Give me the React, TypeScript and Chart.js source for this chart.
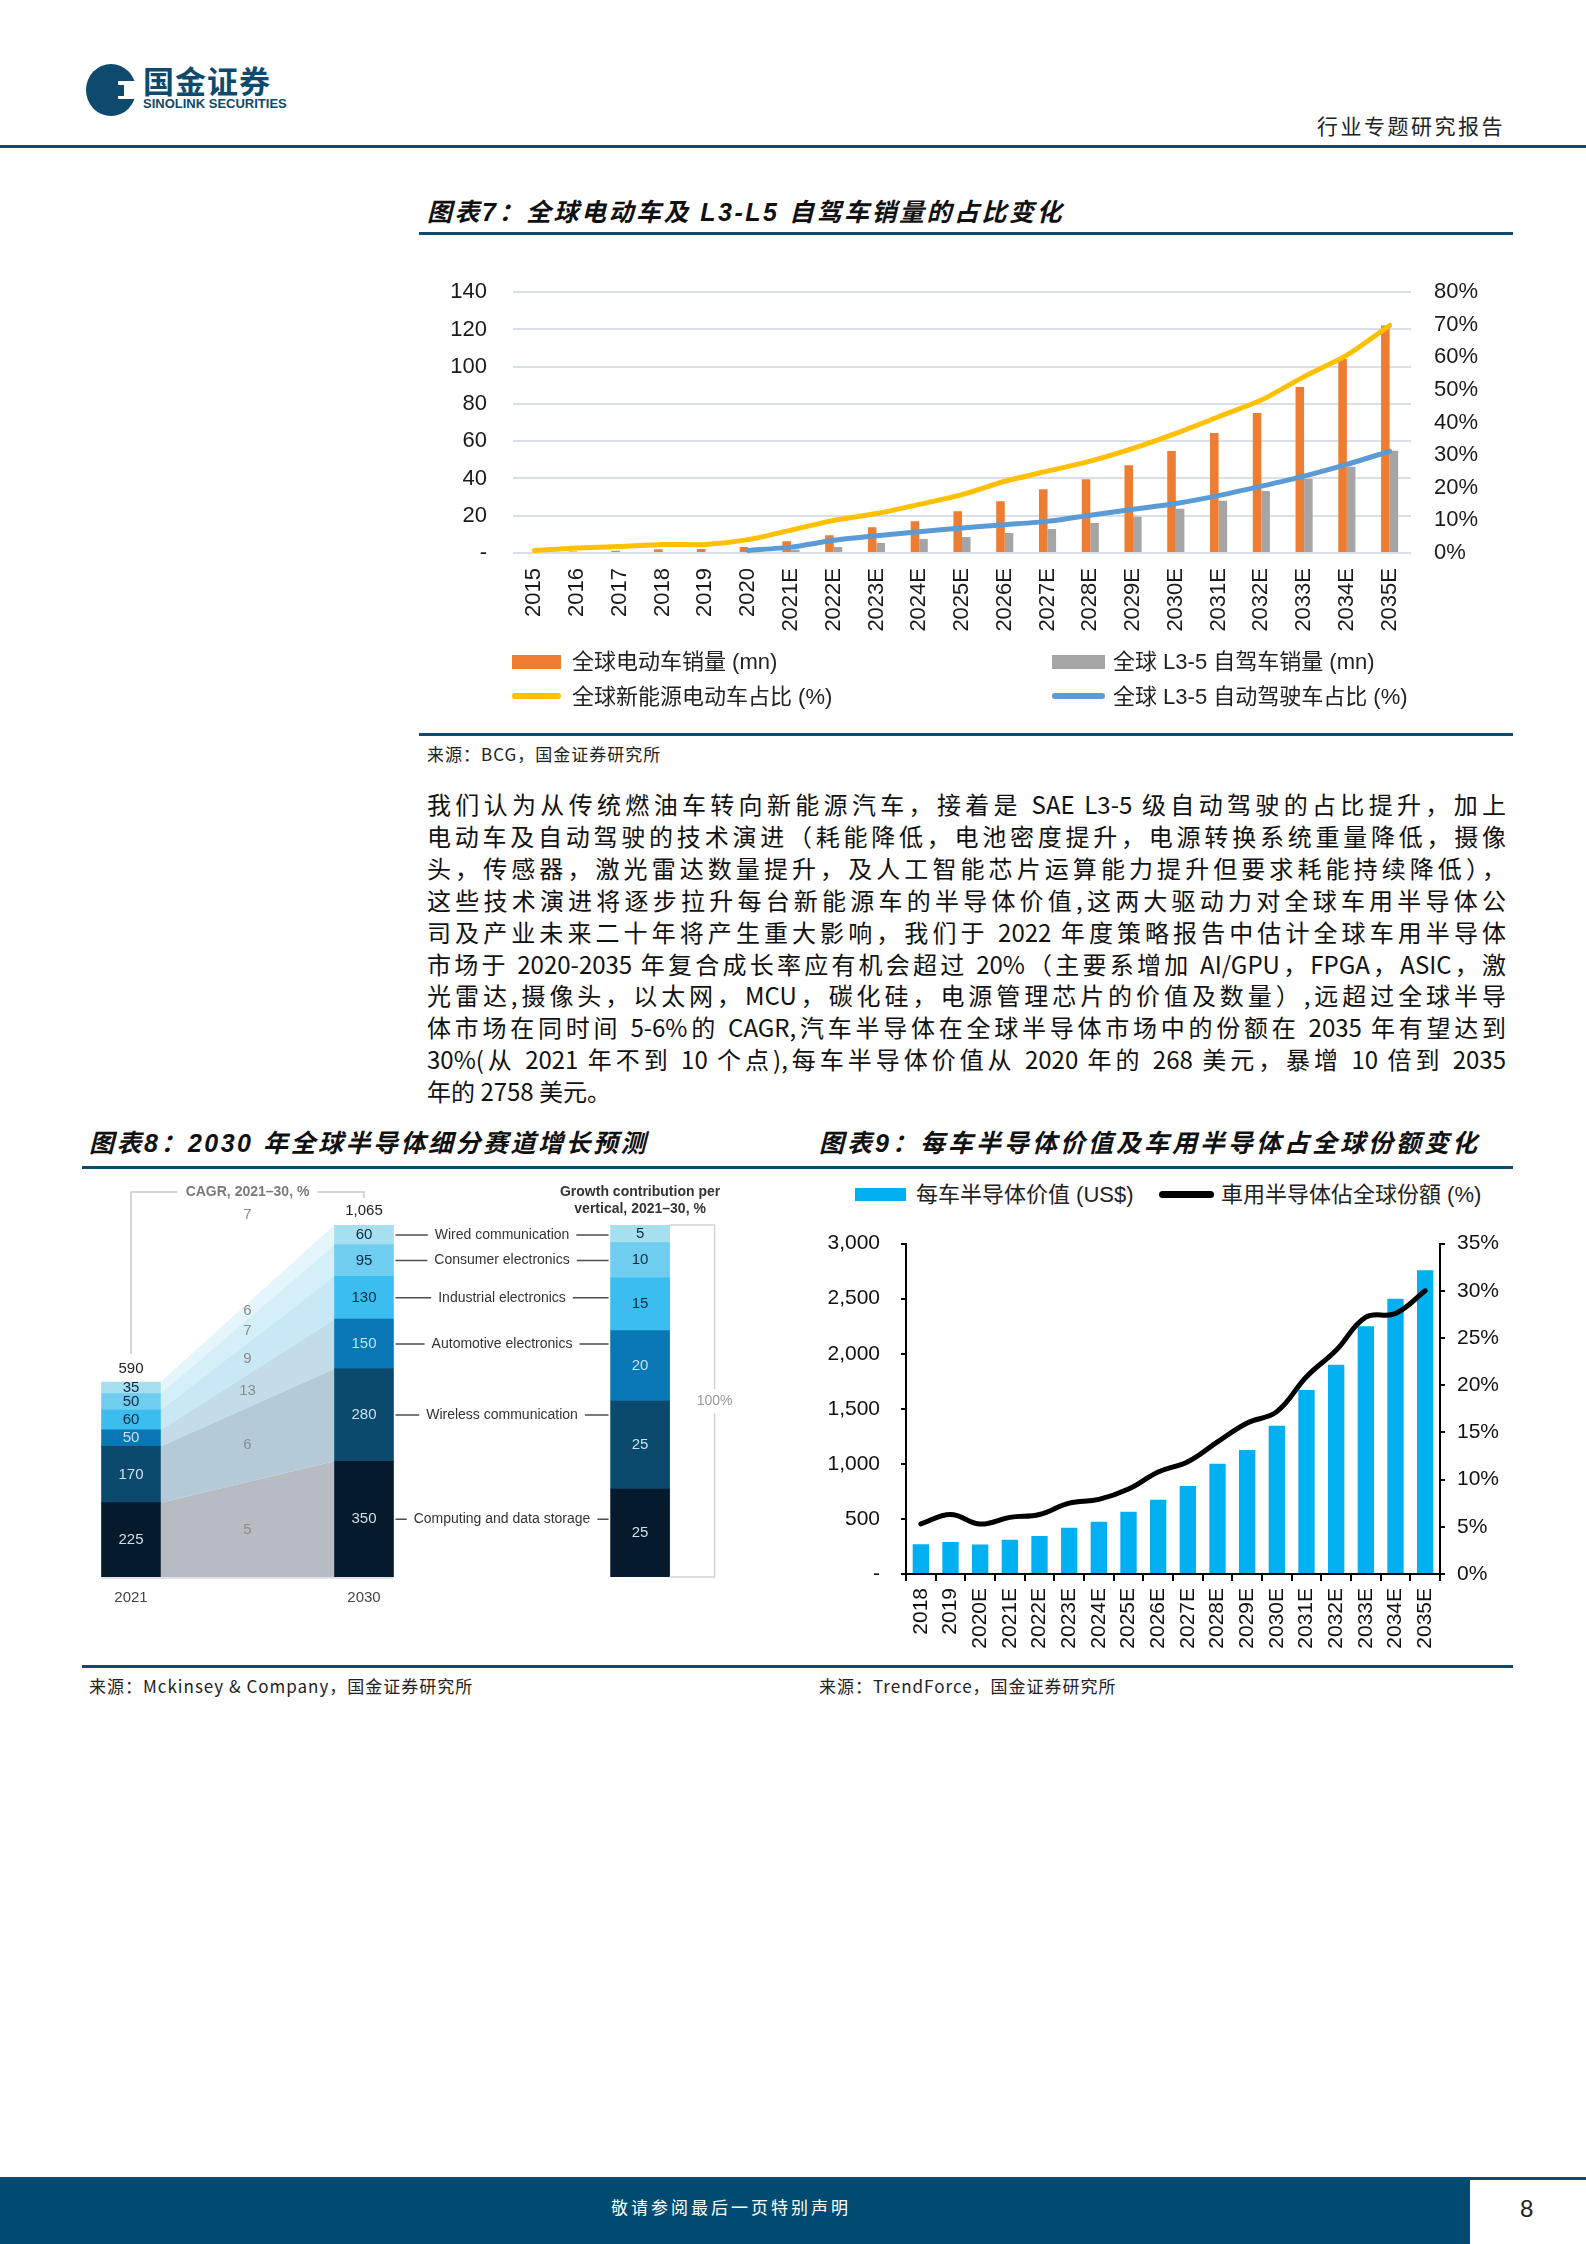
import React, { useEffect, useRef } from 'react';
import { Chart, registerables } from 'chart.js';

Chart.register(...registerables);

const SANS = '"Liberation Sans", Arial, "Noto Sans CJK SC", sans-serif';
const CJK = '"Liberation Sans", "Noto Sans CJK SC", sans-serif';
const BODY = '"Liberation Sans Narrow", "Noto Sans CJK SC", sans-serif';
const NAVY = '#0d4a6e';

// ---------- 图表7：全球电动车及 L3-L5 自驾车销量的占比变化 ----------
const evYears = ['2015', '2016', '2017', '2018', '2019', '2020', '2021E', '2022E', '2023E', '2024E', '2025E', '2026E', '2027E', '2028E', '2029E', '2030E', '2031E', '2032E', '2033E', '2034E', '2035E'];
const evSales = [0.5, 0.8, 1.2, 2.0, 2.1, 3.2, 6.3, 9.5, 13.8, 17.0, 22.4, 27.8, 34.2, 39.6, 47.1, 54.7, 64.4, 75.1, 89.1, 104.2, 122.1];
const avSales = [0, 0, 0, 0, 0, 1.0, 1.8, 3.2, 5.4, 7.5, 8.6, 10.8, 12.9, 16.1, 19.4, 23.7, 28.0, 33.3, 39.8, 46.3, 54.9];
const evShare = [0.8, 1.5, 2.0, 2.6, 2.6, 4.1, 7.0, 10.0, 12.1, 14.9, 17.9, 22.0, 25.1, 28.2, 32.1, 36.7, 41.8, 46.9, 54.1, 60.7, 69.8];
const avShare = [null, null, null, null, null, 0.8, 1.8, 3.9, 5.3, 6.5, 7.7, 8.7, 9.7, 11.6, 13.4, 15.2, 17.6, 20.5, 23.6, 27.2, 31.2];
const evLegend = ['全球电动车销量 (mn)', '全球 L3-5 自驾车销量 (mn)', '全球新能源电动车占比 (%)', '全球 L3-5 自动驾驶车占比 (%)'];

// ---------- 图表8：2030 年全球半导体细分赛道增长预测 ----------
const segNames = ['Computing and data storage', 'Wireless communication', 'Automotive electronics', 'Industrial electronics', 'Consumer electronics', 'Wired communication'];
const market2021 = [225, 170, 50, 60, 50, 35];
const market2030 = [350, 280, 150, 130, 95, 60];
const segCagr = [5, 6, 13, 9, 7, 6];
const totalCagr = 7;
const growthShare = [25, 25, 20, 15, 10, 5];
const segColors = ['#061a2d', '#0c4a6d', '#0a77b5', '#3bbdf0', '#6fcdf0', '#a6dff0'];
const areaColors = ['#b7bcc2', '#b5cad9', '#c2dcea', '#c9e8f5', '#d5eff9', '#e4f5fb'];
const yearLabels8 = ['2021', '2030'];

// ---------- 图表9：每车半导体价值及车用半导体占全球份额变化 ----------
const semiYears = ['2018', '2019', '2020E', '2021E', '2022E', '2023E', '2024E', '2025E', '2026E', '2027E', '2028E', '2029E', '2030E', '2031E', '2032E', '2033E', '2034E', '2035E'];
const semiValue = [270, 290, 268, 310, 345, 420, 475, 565, 675, 800, 1000, 1125, 1345, 1670, 1900, 2250, 2500, 2758];
const semiShare = [5.3, 6.3, 5.3, 6.0, 6.3, 7.5, 7.9, 9.0, 10.8, 11.9, 14.0, 16.0, 17.2, 20.9, 23.7, 27.2, 27.6, 30.0];
const semiLegend = ['每车半导体价值 (US$)', '車用半导体佔全球份額 (%)'];

const bodyLines = [
  '我们认为从传统燃油车转向新能源汽车，接着是 SAE L3-5 级自动驾驶的占比提升，加上',
  '电动车及自动驾驶的技术演进（耗能降低，电池密度提升，电源转换系统重量降低，摄像',
  '头，传感器，激光雷达数量提升，及人工智能芯片运算能力提升但要求耗能持续降低），',
  '这些技术演进将逐步拉升每台新能源车的半导体价值,这两大驱动力对全球车用半导体公',
  '司及产业未来二十年将产生重大影响，我们于 2022 年度策略报告中估计全球车用半导体',
  '市场于 2020-2035 年复合成长率应有机会超过 20%（主要系增加 AI/GPU，FPGA，ASIC，激',
  '光雷达,摄像头，以太网，MCU，碳化硅，电源管理芯片的价值及数量）,远超过全球半导',
  '体市场在同时间 5-6%的 CAGR,汽车半导体在全球半导体市场中的份额在 2035 年有望达到',
  '30%(从 2021 年不到 10 个点),每车半导体价值从 2020 年的 268 美元，暴增 10 倍到 2035',
  '年的 2758 美元。',
];

const cumulative = (arr: number[]) => arr.reduce((acc: number[], v) => [...acc, acc[acc.length - 1] + v], [0]);

function EvChart() {
  const ref = useRef<HTMLCanvasElement>(null);
  useEffect(() => {
    const tickFont = { family: SANS, size: 22 };
    const chart = new Chart(ref.current as HTMLCanvasElement, {
      type: 'bar',
      data: {
        labels: evYears,
        datasets: [
          { type: 'line', label: evLegend[2], data: evShare, yAxisID: 'y1', borderColor: '#ffc000', borderWidth: 5, pointRadius: 0, tension: 0.25, borderCapStyle: 'round', order: 0 } as any,
          { type: 'line', label: evLegend[3], data: avShare, yAxisID: 'y1', borderColor: '#5b9bd5', borderWidth: 5, pointRadius: 0, tension: 0.25, borderCapStyle: 'round', order: 0 } as any,
          { type: 'bar', label: evLegend[0], data: evSales, yAxisID: 'y', backgroundColor: '#ee7d31', categoryPercentage: 0.4, barPercentage: 1, order: 1 },
          { type: 'bar', label: evLegend[1], data: avSales, yAxisID: 'y', backgroundColor: '#a5a5a5', categoryPercentage: 0.4, barPercentage: 1, order: 1 },
        ],
      },
      options: {
        responsive: false,
        animation: false,
        devicePixelRatio: 1,
        layout: { padding: 0 },
        plugins: { legend: { display: false }, tooltip: { enabled: false } },
        scales: {
          x: {
            grid: { display: false },
            border: { display: false },
            ticks: { minRotation: 90, maxRotation: 90, padding: 7, autoSkip: false, color: '#1a1a1a', font: tickFont },
            afterFit: (s: any) => { s.height = 97; },
          },
          y: {
            position: 'left', min: 0, max: 140,
            grid: { color: '#dadfe7', lineWidth: 2, drawTicks: false },
            border: { display: false },
            ticks: { stepSize: 20, padding: 26, color: '#1a1a1a', font: tickFont, callback: (v: any) => (v === 0 ? '-' : String(v)) },
            afterFit: (s: any) => { s.width = 94; },
          },
          y1: {
            position: 'right', min: 0, max: 80,
            grid: { display: false },
            border: { display: false },
            ticks: { stepSize: 10, padding: 15, color: '#1a1a1a', font: tickFont, callback: (v: any) => `${v}%` },
            afterFit: (s: any) => { s.width = 102; },
          },
        },
      } as any,
    });
    return () => chart.destroy();
  }, []);
  return <canvas ref={ref} width={1094} height={397} style={{ position: 'absolute', left: 419, top: 253, width: 1094, height: 397 }} />;
}

// layout of the McKinsey-style panel (x in bar-slot units)
const BAR_W = 59;
const PX_PER_UNIT = 233;
const X_2021 = 0;
const X_2030 = 1;
const X_GROWTH = 2.185;
const X_MIN = -0.2017;
const X_MAX = 2.631;

function SegmentChart() {
  const ref = useRef<HTMLCanvasElement>(null);
  useEffect(() => {
    const cum21 = cumulative(market2021);
    const cum30 = cumulative(market2030);
    const cumG = cumulative(growthShare);
    const total21 = cum21[cum21.length - 1];
    const total30 = cum30[cum30.length - 1];
    const halfU = BAR_W / 2 / PX_PER_UNIT;

    const areaSets = segNames.map((name, i) => ({
      type: 'line',
      label: name + ' area',
      data: [{ x: X_2021 + halfU, y: cum21[i + 1] }, { x: X_2030 - halfU, y: cum30[i + 1] }],
      yAxisID: 'y',
      fill: i === 0 ? 'origin' : '-1',
      backgroundColor: areaColors[i],
      borderWidth: 0,
      pointRadius: 0,
      tension: 0,
      order: 2,
    }));
    const marketSets = segNames.map((name, i) => ({
      type: 'bar',
      label: name,
      data: [{ x: X_2021, y: [cum21[i], cum21[i + 1]] }, { x: X_2030, y: [cum30[i], cum30[i + 1]] }],
      yAxisID: 'y',
      backgroundColor: segColors[i],
      barThickness: BAR_W,
      grouped: false,
      order: 1,
    }));
    const growthSets = segNames.map((name, i) => ({
      type: 'bar',
      label: name + ' growth',
      data: [{ x: X_GROWTH, y: [cumG[i], cumG[i + 1]] }],
      yAxisID: 'y2',
      backgroundColor: segColors[i],
      barThickness: BAR_W,
      grouped: false,
      order: 1,
    }));

    const labelsPlugin = {
      id: 'segmentLabels',
      afterDatasetsDraw(chart: any) {
        const { ctx, chartArea, scales } = chart;
        const xs = scales.x, ys = scales.y, yg = scales.y2;
        const top = chartArea.top, bottom = chartArea.bottom;
        const px0 = xs.getPixelForValue(X_2021);
        const px1 = xs.getPixelForValue(X_2030);
        const pxG = xs.getPixelForValue(X_GROWTH);
        const pxM = xs.getPixelForValue((X_2021 + X_2030) / 2);
        const half = BAR_W / 2;
        ctx.save();
        ctx.textAlign = 'center';
        ctx.textBaseline = 'middle';

        // values inside the bars
        ctx.font = `15px ${SANS}`;
        segNames.forEach((_, i) => {
          ctx.fillStyle = i < 3 ? '#cddff0' : '#0b2a40';
          ctx.fillText(String(market2021[i]), px0, ys.getPixelForValue(cum21[i] + market2021[i] / 2));
          ctx.fillText(String(market2030[i]), px1, ys.getPixelForValue(cum30[i] + market2030[i] / 2));
          ctx.fillText(String(growthShare[i]), pxG, yg.getPixelForValue(cumG[i] + growthShare[i] / 2));
        });

        // totals
        ctx.fillStyle = '#222';
        ctx.font = `15px ${SANS}`;
        ctx.fillText(String(total21), px0, ys.getPixelForValue(total21) - 13);
        ctx.fillText(total30.toLocaleString('en-US'), px1, ys.getPixelForValue(total30) - 14);

        // CAGR per segment, in the middle of each band
        ctx.fillStyle = '#8c8c8c';
        ctx.font = `15px ${SANS}`;
        segNames.forEach((_, i) => {
          const lo = (cum21[i] + cum30[i]) / 2;
          const hi = (cum21[i + 1] + cum30[i + 1]) / 2;
          ctx.fillText(String(segCagr[i]), pxM, ys.getPixelForValue((lo + hi) / 2));
        });
        ctx.fillText(String(totalCagr), pxM, top - 10);

        // CAGR header with bracket
        const hy = top - 33;
        ctx.font = `600 14px ${SANS}`;
        ctx.fillStyle = '#7a7a7a';
        const cagrTitle = 'CAGR, 2021–30, %';
        const cw = ctx.measureText(cagrTitle).width;
        ctx.fillText(cagrTitle, pxM, hy);
        ctx.strokeStyle = '#c8c8c8';
        ctx.lineWidth = 1.5;
        ctx.beginPath();
        ctx.moveTo(px0, ys.getPixelForValue(total21) - 28);
        ctx.lineTo(px0, hy);
        ctx.lineTo(pxM - cw / 2 - 8, hy);
        ctx.moveTo(pxM + cw / 2 + 8, hy);
        ctx.lineTo(px1, hy);
        ctx.lineTo(px1, hy + 6);
        ctx.stroke();

        // connector labels between 2030 bar and growth bar
        ctx.font = `14px ${SANS}`;
        const xl = px1 + half;
        const xr = pxG - half;
        const xt = (xl + xr) / 2;
        segNames.forEach((name, i) => {
          const y = ys.getPixelForValue(cum30[i] + market2030[i] / 2);
          const w = ctx.measureText(name).width;
          ctx.fillStyle = '#333';
          ctx.fillText(name, xt, y);
          ctx.strokeStyle = '#4d4d4d';
          ctx.lineWidth = 1.5;
          ctx.beginPath();
          ctx.moveTo(xl + 2, y);
          ctx.lineTo(xt - w / 2 - 7, y);
          ctx.moveTo(xt + w / 2 + 7, y);
          ctx.lineTo(xr - 2, y);
          ctx.stroke();
        });

        // growth contribution header
        ctx.fillStyle = '#333';
        ctx.font = `bold 14px ${SANS}`;
        ctx.fillText('Growth contribution per', pxG, hy);
        ctx.fillText('vertical, 2021–30, %', pxG, hy + 17);

        // 100% bracket
        const xb = pxG + half + 45;
        const ym = (top + bottom) / 2;
        ctx.strokeStyle = '#d2d2d2';
        ctx.lineWidth = 1.5;
        ctx.beginPath();
        ctx.moveTo(pxG + half, top);
        ctx.lineTo(xb, top);
        ctx.lineTo(xb, ym - 12);
        ctx.moveTo(xb, ym + 12);
        ctx.lineTo(xb, bottom);
        ctx.lineTo(pxG + half, bottom);
        ctx.stroke();
        ctx.fillStyle = '#9a9a9a';
        ctx.font = `14px ${SANS}`;
        ctx.fillText('100%', xb, ym);

        // baseline and year labels
        ctx.strokeStyle = '#d8d8d8';
        ctx.beginPath();
        ctx.moveTo(px0 - half, bottom + 1);
        ctx.lineTo(px1 + half, bottom + 1);
        ctx.stroke();
        ctx.fillStyle = '#444';
        ctx.font = `15px ${SANS}`;
        ctx.fillText(yearLabels8[0], px0, bottom + 21);
        ctx.fillText(yearLabels8[1], px1, bottom + 21);
        ctx.restore();
      },
    };

    const chart = new Chart(ref.current as HTMLCanvasElement, {
      type: 'bar',
      data: { datasets: [...areaSets, ...marketSets, ...growthSets] as any },
      options: {
        responsive: false,
        animation: false,
        devicePixelRatio: 1,
        layout: { padding: { left: 4, right: 16, top: 50, bottom: 43 } },
        plugins: { legend: { display: false }, tooltip: { enabled: false } },
        scales: {
          x: { type: 'linear', min: X_MIN, max: X_MAX, offset: false, display: false },
          y: { min: 0, max: total30, display: false },
          y2: { min: 0, max: 100, display: false },
        },
      } as any,
      plugins: [labelsPlugin],
    });
    return () => chart.destroy();
  }, []);
  return <canvas ref={ref} width={680} height={445} style={{ position: 'absolute', left: 80, top: 1175, width: 680, height: 445 }} />;
}

function SemiChart() {
  const ref = useRef<HTMLCanvasElement>(null);
  useEffect(() => {
    const tickFont = { family: SANS, size: 21 };
    const axisGrid = { drawOnChartArea: false, drawTicks: true, color: '#000', lineWidth: 2 };
    const axisBorder = { display: true, color: '#000', width: 2 };
    const chart = new Chart(ref.current as HTMLCanvasElement, {
      type: 'bar',
      data: {
        labels: semiYears,
        datasets: [
          { type: 'line', label: semiLegend[1], data: semiShare, yAxisID: 'y1', borderColor: '#000', borderWidth: 5, pointRadius: 0, tension: 0.4, borderCapStyle: 'round', order: 0 } as any,
          { type: 'bar', label: semiLegend[0], data: semiValue, yAxisID: 'y', backgroundColor: '#00b0f0', categoryPercentage: 1, barPercentage: 0.55, order: 1 },
        ],
      },
      options: {
        responsive: false,
        animation: false,
        devicePixelRatio: 1,
        layout: { padding: { top: 33, left: 0, right: 0, bottom: 0 } },
        plugins: { legend: { display: false }, tooltip: { enabled: false } },
        scales: {
          x: {
            grid: { ...axisGrid, tickLength: 7 },
            border: axisBorder,
            ticks: { minRotation: 90, maxRotation: 90, padding: 7, autoSkip: false, color: '#111', font: tickFont },
            afterFit: (s: any) => { s.height = 86; },
          },
          y: {
            position: 'left', min: 0, max: 3000,
            grid: { ...axisGrid, tickLength: 5 },
            border: axisBorder,
            ticks: { stepSize: 500, padding: 21, color: '#111', font: tickFont, callback: (v: any) => (v === 0 ? '-' : Number(v).toLocaleString('en-US')) },
            afterFit: (s: any) => { s.width = 87; },
          },
          y1: {
            position: 'right', min: 0, max: 35,
            grid: { ...axisGrid, tickLength: 5 },
            border: axisBorder,
            ticks: { stepSize: 5, padding: 12, color: '#111', font: tickFont, callback: (v: any) => `${v}%` },
            afterFit: (s: any) => { s.width = 73; },
          },
        },
      } as any,
    });
    return () => chart.destroy();
  }, []);
  return <canvas ref={ref} width={694} height={450} style={{ position: 'absolute', left: 819, top: 1210, width: 694, height: 450 }} />;
}

const abs = (left: number, top: number, extra: any = {}) => ({ position: 'absolute' as const, left, top, ...extra });

function Text({ x, cy, size, children, style = {} }: any) {
  const h = Math.round(size * 1.5);
  return (
    <div style={abs(x, cy - h / 2, { height: h, lineHeight: `${h}px`, fontSize: size, whiteSpace: 'nowrap', ...style })}>{children}</div>
  );
}

function Rule({ x, y, w, h = 3, color = NAVY }: any) {
  return <div style={abs(x, y, { width: w, height: h, background: color })} />;
}

export default function App() {
  const titleStyle = { fontFamily: CJK, fontWeight: 700, fontStyle: 'italic', color: '#111' };
  const legendStyle = { fontFamily: CJK, color: '#222' };
  const srcStyle = { fontFamily: BODY, color: '#222', letterSpacing: 1 };
  return (
    <div style={{ position: 'absolute', left: 0, top: 0, width: 1586, height: 2244, background: '#fff', overflow: 'hidden', fontFamily: CJK }}>
      {/* header */}
      <svg style={abs(84, 62)} width={56} height={56} viewBox="0 0 56 56">
        <ellipse cx={27} cy={28} rx={25} ry={26} fill={NAVY} />
        <rect x={34} y={19} width={22} height={18} fill="#fff" />
        <rect x={29} y={23} width={11} height={11} fill={NAVY} />
      </svg>
      <Text x={143} cy={82} size={31} style={{ fontWeight: 700, color: NAVY, letterSpacing: 1 }}>国金证券</Text>
      <Text x={143} cy={104} size={13} style={{ fontFamily: SANS, fontWeight: 700, color: NAVY }}>SINOLINK SECURITIES</Text>
      <Text x={1317} cy={127} size={21} style={{ color: '#222', letterSpacing: 2.5 }}>行业专题研究报告</Text>
      <Rule x={0} y={145} w={1586} h={3} />

      {/* 图表7 */}
      <Text x={427} cy={212} size={25} style={{ ...titleStyle, letterSpacing: 2.5 }}>图表7：全球电动车及 L3-L5 自驾车销量的占比变化</Text>
      <Rule x={419} y={232} w={1094} />
      <EvChart />
      <div style={abs(512, 655, { width: 49, height: 14, background: '#ee7d31' })} />
      <Text x={572} cy={661} size={22} style={legendStyle}>{evLegend[0]}</Text>
      <div style={abs(1052, 655, { width: 53, height: 14, background: '#a5a5a5' })} />
      <Text x={1113} cy={661} size={22} style={legendStyle}>{evLegend[1]}</Text>
      <div style={abs(512, 693, { width: 49, height: 6, borderRadius: 3, background: '#ffc000' })} />
      <Text x={572} cy={696} size={22} style={legendStyle}>{evLegend[2]}</Text>
      <div style={abs(1052, 693, { width: 53, height: 6, borderRadius: 3, background: '#5b9bd5' })} />
      <Text x={1113} cy={696} size={22} style={legendStyle}>{evLegend[3]}</Text>
      <Rule x={419} y={733} w={1094} />
      <Text x={427} cy={754} size={17} style={srcStyle}>来源：BCG，国金证券研究所</Text>

      {/* body text */}
      {bodyLines.map((t, i) => (
        <div
          key={i}
          style={abs(427, 788 + i * 31.9, {
            width: 1079, height: 32, lineHeight: '32px', fontSize: 24, fontFamily: BODY, color: '#111',
            textAlign: 'justify', textAlignLast: i === bodyLines.length - 1 ? 'left' : 'justify',
          })}
        >
          {t}
        </div>
      ))}

      {/* 图表8 / 图表9 */}
      <Text x={89} cy={1143} size={25} style={{ ...titleStyle, letterSpacing: 2.5 }}>图表8：2030 年全球半导体细分赛道增长预测</Text>
      <Text x={819} cy={1143} size={25} style={{ ...titleStyle, letterSpacing: 3 }}>图表9：每车半导体价值及车用半导体占全球份额变化</Text>
      <Rule x={82} y={1166} w={1431} />
      <SegmentChart />
      <div style={abs(855, 1188, { width: 51, height: 13, background: '#00b0f0' })} />
      <Text x={916} cy={1194} size={22} style={legendStyle}>{semiLegend[0]}</Text>
      <div style={abs(1159, 1191, { width: 55, height: 7, borderRadius: 4, background: '#000' })} />
      <Text x={1221} cy={1194} size={22} style={legendStyle}>{semiLegend[1]}</Text>
      <SemiChart />
      <Rule x={82} y={1665} w={1431} />
      <Text x={89} cy={1686} size={17} style={srcStyle}>来源：Mckinsey &amp; Company，国金证券研究所</Text>
      <Text x={819} cy={1686} size={17} style={srcStyle}>来源：TrendForce，国金证券研究所</Text>

      {/* footer */}
      <div style={abs(0, 2177, { width: 1470, height: 67, background: '#004b71' })} />
      <Rule x={1470} y={2177} w={116} h={3} />
      <Text x={611} cy={2209} size={17} style={{ color: '#fff', letterSpacing: 3 }}>敬请参阅最后一页特别声明</Text>
      <Text x={1520} cy={2209} size={24} style={{ fontFamily: SANS, color: '#222' }}>8</Text>
    </div>
  );
}
